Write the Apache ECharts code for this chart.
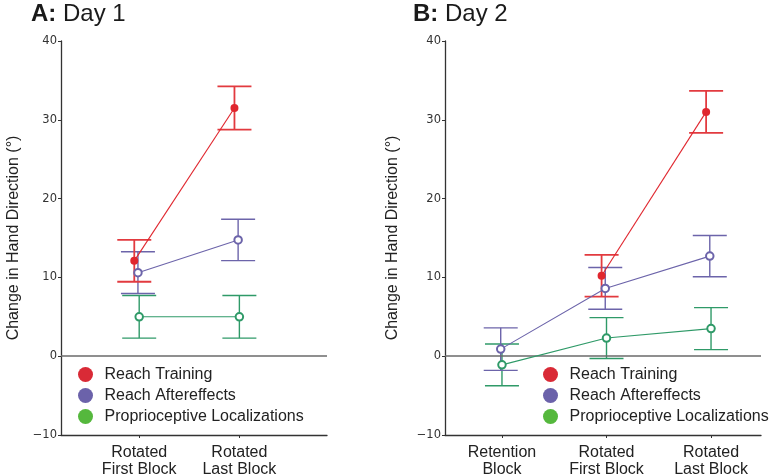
<!DOCTYPE html>
<html>
<head>
<meta charset="utf-8">
<script src="https://cdn.jsdelivr.net/npm/echarts@6/dist/echarts.min.js"></script>
<style>html,body{margin:0;padding:0;background:#fff}#c{width:775px;height:475px}</style>
</head>
<body>
<div id="c"></div>
<script>
// ---------- data ----------
const seriesNames = ['Reach Training', 'Reach Aftereffects', 'Proprioceptive Localizations'];
const yTicks = [-10, 0, 10, 20, 30, 40];

// Panel A (Day 1)
const catsA = ['Rotated\nFirst Block', 'Rotated\nLast Block'];
const posA = [1.043, 2.0];
const redA = [12.1, 31.5];
const redErrA = [2.65, 2.75];
const purpleA = [10.6, 14.75];
const purpleErrA = [2.65, 2.62];
const greenA = [5.0, 5.0];
const greenErrA = [2.7, 2.7];

// Panel B (Day 2)
const catsB = ['Retention\nBlock', 'Rotated\nFirst Block', 'Rotated\nLast Block'];
const posB = [1, 2, 3];
const redB = [null, 10.2, 31.0];
const redErrB = [null, 2.65, 2.67];
const purpleB = [0.9, 8.6, 12.7];
const purpleErrB = [2.7, 2.65, 2.62];
const greenB = [-1.1, 2.3, 3.5];
const greenErrB = [2.65, 2.6, 2.67];

// dodge of each series (x units)
const dodge = [-0.047, -0.012, 0];

// ---------- style ----------
const SANS = 'Liberation Sans, Arial, Helvetica, sans-serif';
const TICKF = 'DejaVu Sans, sans-serif';
const lineColors = ['#e0262e', '#6c64aa', '#2f9a68'];
const legendColors = ['#d92a36', '#6b62aa', '#55b83d'];

function pts(pos, vals, d) {
  const out = [];
  vals.forEach((v, i) => { if (v !== null) out.push([pos[i] + d, v]); });
  return out;
}
function errs(pos, vals, e, d) {
  const out = [];
  vals.forEach((v, i) => { if (v !== null) out.push([pos[i] + d, v - e[i], v + e[i]]); });
  return out;
}
function errSeries(idx, data, color, lw) {
  return {
    type: 'custom', name: 'err' + idx, xAxisIndex: idx, yAxisIndex: idx, z: 2,
    silent: true, data: data,
    renderItem: function (params, api) {
      const x = api.value(0), lo = api.value(1), hi = api.value(2);
      const a = api.coord([x, lo]), b = api.coord([x, hi]);
      const hw = 17;
      const st = { stroke: color, lineWidth: lw };
      return { type: 'group', children: [
        { type: 'line', shape: { x1: a[0], y1: a[1], x2: b[0], y2: b[1] }, style: st },
        { type: 'line', shape: { x1: a[0] - hw, y1: a[1], x2: a[0] + hw, y2: a[1] }, style: st },
        { type: 'line', shape: { x1: b[0] - hw, y1: b[1], x2: b[0] + hw, y2: b[1] }, style: st }
      ]};
    }
  };
}
function lineSeries(idx, k, data, withZero) {
  const s = {
    type: 'line', name: seriesNames[k], xAxisIndex: idx, yAxisIndex: idx,
    data: data, z: 3 + k,
    symbol: k === 0 ? 'circle' : 'emptyCircle', symbolSize: k === 0 ? 8 : 7.5,
    itemStyle: { color: lineColors[k], borderWidth: k === 0 ? 0 : 1.2 },
    lineStyle: { color: lineColors[k], width: 1.1 },
    emphasis: { disabled: true }, animation: false
  };
  if (withZero) {
    s.markLine = { silent: true, symbol: 'none', label: { show: false },
      lineStyle: { color: '#6a6a6a', width: 1.5, type: 'solid' }, data: [{ yAxis: 0 }], animation: false };
  }
  return s;
}
function xAxis(idx, min, max, cats, pos) {
  return {
    type: 'value', gridIndex: idx, min: min, max: max,
    axisLine: { show: true, onZero: false, lineStyle: { color: '#333', width: 1.3 } },
    axisTick: { show: true, length: 3, customValues: pos, lineStyle: { color: '#333' } },
    splitLine: { show: false },
    axisLabel: {
      customValues: pos, margin: 9, fontSize: 16, lineHeight: 17, color: '#222', fontFamily: SANS,
      formatter: function (v) { const i = pos.indexOf(v); return i >= 0 ? cats[i] : ''; }
    }
  };
}
function yAxis(idx, gap) {
  return {
    type: 'value', gridIndex: idx, min: yTicks[0], max: yTicks[yTicks.length - 1], interval: 10,
    name: 'Change in Hand Direction (°)', nameLocation: 'middle', nameGap: gap, nameRotate: 90,
    nameMoveOverlap: false,
    nameTextStyle: { fontSize: 16, color: '#222', fontFamily: SANS },
    axisLine: { show: true, lineStyle: { color: '#333', width: 1.3 } },
    axisTick: { show: true, length: 3, lineStyle: { color: '#333' } },
    splitLine: { show: false },
    axisLabel: { fontSize: 11.5, color: '#333', fontFamily: TICKF, margin: 4,
      formatter: function (v) { return v < 0 ? '\u2212' + Math.abs(v) : String(v); } }
  };
}
function legend(left, top) {
  return {
    left: left, top: top, orient: 'vertical', icon: 'circle', itemWidth: 28, itemHeight: 15, itemGap: 5,
    selectedMode: false, padding: 0,
    textStyle: { fontSize: 16, color: '#222', fontFamily: SANS },
    data: seriesNames.map((n, k) => ({ name: n, itemStyle: { color: legendColors[k], borderWidth: 0 } }))
  };
}

const option = {
  animation: false,
  backgroundColor: '#fff',
  title: [
    { text: '{b|A:} Day 1', left: 31, top: 2, padding: 0,
      textStyle: { fontSize: 24, fontWeight: 'normal', color: '#1a1a1a', fontFamily: SANS,
        rich: { b: { fontSize: 24, fontWeight: 'bold', color: '#1a1a1a', fontFamily: SANS } } } },
    { text: '{b|B:} Day 2', left: 413, top: 2, padding: 0,
      textStyle: { fontSize: 24, fontWeight: 'normal', color: '#1a1a1a', fontFamily: SANS,
        rich: { b: { fontSize: 24, fontWeight: 'bold', color: '#1a1a1a', fontFamily: SANS } } } }
  ],
  grid: [
    { left: 61, width: 266, top: 41, bottom: 40, outerBoundsMode: 'none', containLabel: false },
    { left: 445, width: 316, top: 41, bottom: 40, outerBoundsMode: 'none', containLabel: false }
  ],
  xAxis: [ xAxis(0, 0.296, 2.837, catsA, posA), xAxis(1, 0.455, 3.478, catsB, posB) ],
  yAxis: [ yAxis(0, 39), yAxis(1, 44) ],
  legend: [ legend(78, 366.5), legend(543, 366.5) ],
  series: [
    errSeries(0, errs(posA, greenA, greenErrA, dodge[2]), lineColors[2], 1.4),
    errSeries(0, errs(posA, purpleA, purpleErrA, dodge[1]), lineColors[1], 1.4),
    errSeries(0, errs(posA, redA, redErrA, dodge[0]), '#e23a3f', 1.8),
    lineSeries(0, 2, pts(posA, greenA, dodge[2]), true),
    lineSeries(0, 1, pts(posA, purpleA, dodge[1]), false),
    lineSeries(0, 0, pts(posA, redA, dodge[0]), false),
    errSeries(1, errs(posB, greenB, greenErrB, dodge[2]), lineColors[2], 1.4),
    errSeries(1, errs(posB, purpleB, purpleErrB, dodge[1]), lineColors[1], 1.4),
    errSeries(1, errs(posB, redB, redErrB, dodge[0]), '#e23a3f', 1.8),
    lineSeries(1, 2, pts(posB, greenB, dodge[2]), true),
    lineSeries(1, 1, pts(posB, purpleB, dodge[1]), false),
    lineSeries(1, 0, pts(posB, redB, dodge[0]), false)
  ]
};
const chart = echarts.init(document.getElementById('c'), null, { renderer: 'canvas' });
chart.setOption(option);
</script>
</body>
</html>
